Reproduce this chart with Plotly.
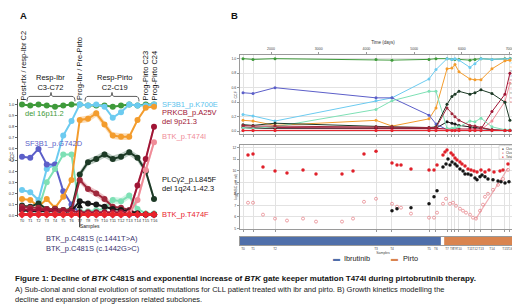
import plotly.graph_objects as go

W, H = 520, 307
FONT = "Liberation Sans"


def px(x):
    return x / W


def py(y):
    return 1 - y / H


# ---------------- data ----------------
samples = ["T0", "T1", "T2", "T3", "T4", "T5", "T6", "T7", "T8", "T9", "T10",
           "T11", "T12", "T13", "T14", "T15", "T16"]
sample_idx = list(range(len(samples)))
sample_days = [1413, 1623, 2084, 4201, 4536, 5312, 5458, 5689, 5793, 5856, 5940,
               6170, 6275, 6401, 6631, 6904, 7008]

ccf_1_del16p = [1.0, 0.99, 1.0, 0.99, 0.98, 0.99, 1.0, 1.0, 0.99, 0.99, 0.99, 0.98, 0.99, 1.0, 0.99, 1.0, 1.0]
ccf_2_sf3b1_k700e = [0.23, 0.21, 0.14, 0.42, 0.46, 0.72, 0.85, 1.0, 0.99, 1.0, 0.98, 0.88, 0.93, 1.0, 0.99, 0.99, 1.0]
ccf_3_orange = [0.15, 0.14, 0.08, 0.15, 0.07, 0.17, 0.32, 0.86, 0.87, 0.92, 0.82, 0.72, 0.71, 0.71, 0.86, 0.97, 0.98]
ccf_4_c481s_t_a = [0.05, 0.04, 0.04, 0.04, 0.04, 0.03, 0.04, 0.13, 0.11, 0.10, 0.08, 0.06, 0.05, 0.04, 0.02, 0.01, 0.01]
ccf_5_sf3b1_g742d = [0.53, 0.52, 0.60, 0.46, 0.46, 0.22, 0.10, 0.02, 0.02, 0.01, 0.01, 0.01, 0.01, 0.01, 0.01, 0.01, 0.01]
ccf_6_prkcb = [0.06, 0.05, 0.05, 0.05, 0.04, 0.04, 0.04, 0.03, 0.03, 0.03, 0.03, 0.03, 0.03, 0.03, 0.27, 0.51, 0.80]
ccf_7_mint = [0.05, 0.04, 0.06, 0.30, 0.42, 0.55, 0.55, 0.04, 0.04, 0.05, 0.06, 0.14, 0.13, 0.18, 0.06, 0.02, 0.02]
ccf_8_t474i = [0.01, 0.01, 0.01, 0.01, 0.01, 0.01, 0.01, 0.01, 0.01, 0.01, 0.01, 0.01, 0.01, 0.02, 0.14, 0.41, 0.66]
ccf_9_plcg2 = [0.09, 0.08, 0.11, 0.06, 0.06, 0.05, 0.06, 0.37, 0.48, 0.51, 0.55, 0.51, 0.53, 0.57, 0.52, 0.40, 0.15]
ccf_10_c481s_g_c = [0.08, 0.07, 0.07, 0.06, 0.06, 0.05, 0.05, 0.32, 0.24, 0.20, 0.15, 0.08, 0.07, 0.05, 0.02, 0.01, 0.01]
ccf_11_t474f = [0.01, 0.01, 0.01, 0.01, 0.01, 0.01, 0.01, 0.01, 0.01, 0.01, 0.01, 0.01, 0.01, 0.01, 0.01, 0.01, 0.01]

wbc_days = [1518, 1623, 1832, 2084, 2335, 2671, 2943, 3488, 3719, 3949, 4201, 4536, 4641, 4725, 4934,
            5312, 5417, 5480, 5605, 5647, 5689, 5773, 5815, 5857, 5899, 5961, 6003, 6066, 6129, 6192,
            6255, 6318, 6401, 6485, 6569, 6674, 6800, 6863, 6967]
wbc_total = [11.34, 11.43, 10.31, 9.97, 9.80, 10.06, 9.71, 9.71, 9.97, 11.43, 11.68, 10.66, 10.48, 10.48, 10.14,
             10.06, 10.06, 10.48, 11.34, 11.60, 11.77, 11.51, 11.34, 11.08, 10.91, 10.74, 10.57, 10.40, 10.14, 10.06,
             9.97, 9.88, 10.06, 9.88, 10.06, 9.88, 9.97, 10.06, 10.57]

c4_days = [4536, 4641, 4934, 5312, 5417, 5480, 5605, 5668, 5710, 5752, 5794, 5857, 5899, 5961, 6024,
           6066, 6129, 6192, 6276, 6318, 6381, 6423, 6485, 6548, 6653, 6758, 6821, 6905, 6988]
c4_vals = [6.54, 6.71, 6.80, 7.14, 7.74, 8.26, 10.31, 10.57, 11.00, 10.48, 10.74, 10.57, 10.40, 10.14, 9.97,
           9.71, 9.71, 9.63, 9.37, 9.20, 9.46, 9.63, 9.46, 9.28, 9.20, 9.11, 9.03, 8.94, 9.03]

c8_days = [1518, 1623, 1832, 2084, 2335, 2671, 2943, 3488, 3719, 3949, 4201, 4536, 4641, 4725, 4934,
           5312, 5417, 5480, 5605, 5668, 5752, 5815, 5878, 5961, 6024, 6087, 6171, 6234, 6297, 6381,
           6443, 6485, 6548, 6653, 6758, 6863, 6967]
c8_vals = [7.23, 7.23, 6.20, 5.86, 5.69, 5.86, 5.60, 5.60, 5.86, 7.31, 7.57, 7.14, 6.89, 6.80, 6.29,
           5.94, 5.94, 6.37, 7.14, 7.57, 7.14, 7.23, 6.97, 6.71, 6.54, 6.37, 6.20, 5.94, 5.86, 6.54,
           7.06, 7.74, 8.00, 8.34, 8.77, 9.28, 10.06]
c8_fit_days = [6297, 6967]
c8_fit_vals = [5.86, 10.2]

treat_names = ["Ibrutinib", "Pirto"]
treat_start = [1350, 5630]
treat_end = [5560, 7070]
time_ticks = [2000, 3000, 4000, 5000, 6000, 7000]

# ---------------- styles ----------------
series = [  # (legend number, values, colour)
    (1, ccf_1_del16p, "#3e9a3a"),
    (2, ccf_2_sf3b1_k700e, "#6ccbf0"),
    (3, ccf_3_orange, "#f39c2d"),
    (4, ccf_4_c481s_t_a, "#1a1a1a"),
    (5, ccf_5_sf3b1_g742d, "#5c5fc9"),
    (6, ccf_6_prkcb, "#a01535"),
    (7, ccf_7_mint, "#7ee0b5"),
    (8, ccf_8_t474i, "#f08c98"),
    (9, ccf_9_plcg2, "#1d3a26"),
    (10, ccf_10_c481s_g_c, "#a0283c"),
    (11, ccf_11_t474f, "#e8232b"),
]
colour = {n: c for n, _, c in series}
values = {n: v for n, v, _ in series}
draw_order_A = [1, 2, 5, 7, 3, 9, 10, 4, 6, 8, 11]
bands = [  # (series, first, last, fill)
    (3, 7, 13, "rgba(243,156,45,0.35)"),
    (9, 7, 16, "rgba(70,110,85,0.35)"),
    (10, 7, 11, "rgba(200,80,95,0.35)"),
    (8, 13, 16, "rgba(240,140,152,0.4)"),
    (6, 13, 16, "rgba(170,40,70,0.3)"),
    (7, 10, 14, "rgba(126,224,181,0.35)"),
]
BAND_W = 0.03

fig = go.Figure()

# ---------------- panel A ----------------
for n, a, b, fc in bands:
    xs = sample_idx[a:b + 1]
    up = [v + BAND_W for v in values[n][a:b + 1]]
    lo = [v - BAND_W for v in values[n][a:b + 1]]
    fig.add_trace(go.Scatter(x=xs + xs[::-1], y=up + lo[::-1], fill="toself", fillcolor=fc,
                             line=dict(width=0), mode="lines", hoverinfo="skip",
                             xaxis="x", yaxis="y", showlegend=False))
for n in draw_order_A:
    sym = "diamond" if n == 11 else "circle"
    lw = 3 if n == 11 else 2
    fig.add_trace(go.Scatter(x=sample_idx, y=values[n], mode="lines+markers",
                             line=dict(color=colour[n], width=lw),
                             marker=dict(color=colour[n], size=6, symbol=sym),
                             xaxis="x", yaxis="y", showlegend=False, cliponaxis=False))

# ---------------- panel B top ----------------
for n, v, c in series:
    fig.add_trace(go.Scatter(x=sample_days, y=v, mode="lines+markers",
                             line=dict(color=c, width=1), marker=dict(color=c, size=3),
                             xaxis="x2", yaxis="y2", showlegend=False))
fig.add_trace(go.Scatter(x=[None], y=[None], xaxis="x6", yaxis="y2", showlegend=False))

# ---------------- panel B bottom ----------------
fig.add_trace(go.Scatter(x=c8_fit_days, y=c8_fit_vals, mode="lines",
                         line=dict(color="rgba(232,120,130,0.6)", width=1.2),
                         xaxis="x4", yaxis="y4", showlegend=False))
fig.add_trace(go.Scatter(x=c8_days, y=c8_vals, mode="markers",
                         marker=dict(color="rgba(255,255,255,0)", size=3,
                                     line=dict(color="#e88a90", width=0.8)),
                         xaxis="x4", yaxis="y4", showlegend=False))
fig.add_trace(go.Scatter(x=c4_days, y=c4_vals, mode="markers",
                         marker=dict(color="#151515", size=3.5),
                         xaxis="x4", yaxis="y4", showlegend=False))
fig.add_trace(go.Scatter(x=wbc_days, y=wbc_total, mode="markers",
                         marker=dict(color="#e0202a", size=3.5),
                         xaxis="x4", yaxis="y4", showlegend=False))

# ---------------- treatment bar ----------------
treat_col = ["#4f6faa", "#d9844f"]
for name, s, e, c in zip(treat_names, treat_start, treat_end, treat_col):
    fig.add_trace(go.Bar(y=[0], x=[e - s], base=[s], orientation="h", width=1,
                         marker=dict(color=c, line=dict(width=0)),
                         xaxis="x5", yaxis="y5", showlegend=False))

# ---------------- axes ----------------
XA = [px(10), px(150)]
XB = [px(232), px(518)]
RB = [1350, 7345]
tiny = dict(size=3.5, color="#444", family=FONT)
box = dict(showline=True, mirror=True, linecolor="#9a9a9a", linewidth=1)

fig.update_layout(
    width=W, height=H, margin=dict(l=0, r=0, t=0, b=0),
    paper_bgcolor="white", plot_bgcolor="white", showlegend=False,
    font=dict(family=FONT), barmode="overlay",
    xaxis=dict(domain=XA, range=[-0.485, 16.485], anchor="y", tickvals=sample_idx, ticktext=samples,
               tickfont=dict(size=4, color="#333"), tickangle=0, ticks="", showgrid=False, zeroline=False,
               showline=False, ticklabelstandoff=0),
    yaxis=dict(domain=[py(210), py(92)], range=[-0.009, 1.045], anchor="x", dtick=0.1, tickformat=".1f",
               tickfont=dict(size=4, color="#333"), ticks="outside", ticklen=2, tickcolor="#666",
               showgrid=False, zeroline=False, showline=True, linecolor="#555", linewidth=0.8),
    xaxis2=dict(domain=XB, range=RB, anchor="y2", tickvals=sample_days, ticktext=[""] * 17,
                ticks="outside", ticklen=2, tickcolor="#999", showgrid=True, gridcolor="#e2e2e2",
                gridwidth=0.8, zeroline=False, **box),
    xaxis6=dict(range=RB, overlaying="x2", anchor="y2", side="top", tickvals=time_ticks,
                tickfont=tiny, ticks="outside", ticklen=2, tickcolor="#999", showgrid=False, zeroline=False,
                title=dict(text="Time (days)", font=dict(size=4.5, color="#333"), standoff=2)),
    yaxis2=dict(domain=[py(127), py(47)], range=[-0.041, 1.055], anchor="x2", dtick=0.2, tickformat=".1f",
                tickfont=tiny, ticks="outside", ticklen=2, tickcolor="#999", showgrid=True,
                gridcolor="#e2e2e2", gridwidth=0.8, zeroline=False, **box),
    xaxis4=dict(domain=XB, range=RB, anchor="y4", tickvals=sample_days, ticktext=[""] * 17,
                ticks="outside", ticklen=2, tickcolor="#999", showgrid=True, gridcolor="#e2e2e2",
                gridwidth=0.8, zeroline=False, **box),
    yaxis4=dict(domain=[py(222), py(138)], range=[5, 12.2], anchor="x4", dtick=1,
                tickfont=tiny, ticks="outside", ticklen=2, tickcolor="#999", showgrid=True,
                gridcolor="#e2e2e2", gridwidth=0.8, zeroline=False, **box),
    xaxis5=dict(domain=XB, range=RB, anchor="y5", tickvals=sample_days, ticktext=samples,
                tickfont=dict(size=3.2, color="#444"), tickangle=0, ticks="", showgrid=False, zeroline=False,
                title=dict(text="Samples", font=dict(size=3.5, color="#444"), standoff=1), **box),
    yaxis5=dict(domain=[py(239), py(230)], range=[-0.5, 0.5], anchor="x5", showticklabels=False,
                ticks="", showgrid=False, zeroline=False, **box),
)

# ---------------- text ----------------
ann = []


def txt(x, y, text, size=7.5, color="#111", xanchor="left", yanchor="middle", angle=0):
    ann.append(dict(x=px(x), y=py(y), xref="paper", yref="paper", text=text, showarrow=False,
                    font=dict(size=size, color=color, family=FONT), xanchor=xanchor,
                    yanchor=yanchor, textangle=angle, borderpad=0))


txt(15, 8, "<b>A</b>", size=9.5, xanchor="center")
txt(226, 8, "<b>B</b>", size=9.5, xanchor="center")

for x, t in [(15, "Post-rtx / resp-Ibr C2"), (72, "Prog-Ibr / Pre-Pirto"),
             (137, "Prog-Pirto C23"), (146, "Prog-Pirto C24")]:
    txt(x, 94, t, size=7.5, xanchor="center", yanchor="bottom", angle=-90)
txt(42, 75, "Resp-Ibr<br>C3-C72", size=7.5, xanchor="center")
txt(106, 75, "Resp-Pirto<br>C2-C19", size=7.5, xanchor="center")

txt(16, 106, "del 16p11.2", color=colour[1])
txt(16, 136, "SF3B1_p.G742D", color=colour[5])
txt(153, 97, "SF3B1_p.K700E", color="#5cc3ec")
txt(153, 105, "PRKCB_p.A25V", color="#a01535")
txt(153, 114, "del 9p21.3", color="#a01535")
txt(153, 129, "BTK_p.T474I", color="#f08c98")
txt(153, 173, "PLCγ2_p.L845F", color="#111")
txt(153, 182, "del 1q24.1-42.3", color="#111")
txt(153, 208, "BTK_p.T474F", color="#e8232b")
txt(82, 219.5, "Samples", size=5, color="#222", xanchor="center")
txt(4, 150, "CCF", size=5, color="#222", xanchor="center", angle=-90)
txt(37, 232, "BTK_p.C481S (c.1441T>A)", color="#38336e")
txt(37, 242, "BTK_p.C481S (c.1442G>C)", color="#38336e")

ann.append(dict(x=7, y=0.125, xref="x", yref="y", ax=0, ay=27, text="", showarrow=True,
                arrowhead=2, arrowsize=1.3, arrowwidth=1, arrowcolor="#111"))

# panel B small titles
txt(228, 88, "CCF", size=3.5, color="#444", xanchor="center", angle=-90)
txt(228, 180, "log(WBC per ml)", size=3.5, color="#444", xanchor="center", angle=-90)

# panel B top legend
for i, (n, v, c) in enumerate(series):
    y = 50.5 + i * 4.4
    txt(504, y, f'<span style="color:{c}">━●━</span>', size=3, xanchor="center")
    txt(508, y, str(n), size=3.2, color="#333")

# panel B bottom legend
for i, (lab, c) in enumerate([("Cluster 4", "#151515"), ("Cluster 8", "#e88a90"), ("Total WBC", "#e0202a")]):
    y = 141.5 + i * 4.3
    txt(494.5, y, f'<span style="color:{c}">●</span>', size=3.2, xanchor="center")
    txt(497, y, lab, size=3, color="#333")

# treatment legend
txt(328.5, 252, '<span style="color:#4f6faa">▬</span>', size=7, xanchor="center")
txt(335, 252, "Ibrutinib", size=7.3, color="#222")
txt(386.5, 252, '<span style="color:#d9844f">▬</span>', size=7, xanchor="center")
txt(394, 252, "Pirto", size=7.3, color="#222")

# caption
txt(6, 272, "<b>Figure 1: Decline of <i>BTK</i> C481S and exponential increase of <i>BTK</i> gate keeper "
            "mutation T474I during pirtobrutinib therapy.</b>", size=8, color="#111")
txt(6, 283, "A) Sub-clonal and clonal evolution of somatic mutations for CLL patient treated with ibr and "
            "pirto. B) Growth kinetics modelling the", size=7.5, color="#222")
txt(6, 293, "decline and expansion of progression related subclones.", size=7.5, color="#222")

# brackets
shapes = []
for x0, x1 in [(19, 67), (77, 131)]:
    xm = (x0 + x1) / 2
    path = (f"M {px(x0)},{py(94)} Q {px(x0)},{py(89)} {px(x0 + 3)},{py(89)} "
            f"L {px(xm - 2)},{py(89)} Q {px(xm)},{py(89)} {px(xm)},{py(85)} "
            f"Q {px(xm)},{py(89)} {px(xm + 2)},{py(89)} L {px(x1 - 3)},{py(89)} "
            f"Q {px(x1)},{py(89)} {px(x1)},{py(94)}")
    shapes.append(dict(type="path", xref="paper", yref="paper", path=path,
                       line=dict(color="#333", width=0.8)))
shapes.append(dict(type="rect", xref="paper", yref="paper", x0=px(491), x1=px(516), y0=py(152), y1=py(138.5),
                   line=dict(color="#bbb", width=0.5), fillcolor="white", layer="above"))

fig.update_layout(annotations=ann, shapes=shapes)
fig.write_html("out.html")
